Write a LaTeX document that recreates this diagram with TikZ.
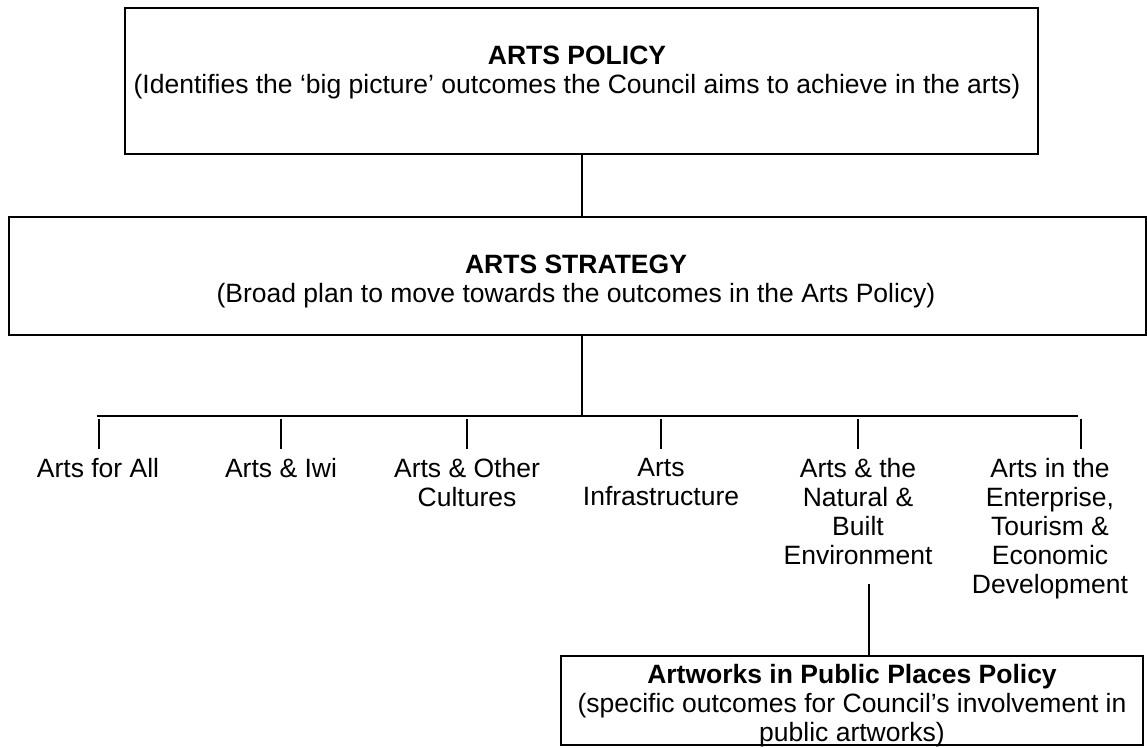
\documentclass[tikz,border=0pt]{standalone}
\usepackage{fontspec}
\setmainfont{Liberation Sans}
\usetikzlibrary{calc}
\begin{document}
\begin{tikzpicture}[x=1pt,y=-1pt,
  box/.style={draw=black,line width=1.3pt,inner sep=0pt,minimum width=#1},
  txt/.style={inner sep=0pt,anchor=north,align=center,font=\fontsize{26.5}{29}\selectfont},
  link/.style={line width=1.4pt},
  bus/.style={line width=2pt}]
\useasboundingbox (0,0) rectangle (1147,747);
% boxes
\node[box=913pt,minimum height=146pt] (policy) at (581.5,81) {};
\node[box=1137pt,minimum height=118pt] (strategy) at (577.5,276) {};
\node[box=582pt,minimum height=89pt,line width=1.8pt] (app) at (852,700.5) {};
% box texts
\node[txt] (policyT) at (577,46) {\textbf{ARTS POLICY}\\(Identifies the ‘big picture’ outcomes the Council aims to achieve in the arts)};
\node[txt] (strategyT) at (576,255) {\textbf{ARTS STRATEGY}\\(Broad plan to move towards the outcomes in the Arts Policy)};
\node[txt] (appT) at (852,664) {\textbf{Artworks in Public Places Policy}\\(specific outcomes for Council’s involvement in\\public artworks)};
% categories
\node[txt] (c1) at (98,458) {Arts for All};
\node[txt] (c2) at (281,458) {Arts \& Iwi};
\node[txt] (c3) at (467,458) {Arts \& Other\\Cultures};
\node[txt] (c4) at (661,458) {Arts\\Infrastructure};
\node[txt] (c5) at (858,458) {Arts \& the\\Natural \&\\Built\\Environment};
\node[txt] (c6) at (1050,458) {Arts in the\\Enterprise,\\Tourism \&\\Economic\\Development};
% connectors
\coordinate (mid) at (582,0);
\draw[link] (policy.south -| mid) -- (strategy.north -| mid);
\coordinate (trunk) at (582,416);
\draw[link] (strategy.south -| trunk) -- (trunk);
\coordinate (busL) at (97,416);
\coordinate (busR) at (1078,416);
\draw[bus] (busL) -- (busR);
\foreach \n/\x in {1/99,2/281,3/467,4/661,5/858,6/1081}{
  \coordinate (d\n top) at (\x,419);
  \coordinate (d\n bot) at (\x,449);
  \draw[link] (d\n top) -- (d\n bot);
}
\coordinate (envlow) at (869,584);
\draw[link] (envlow) -- (envlow |- app.north);
\end{tikzpicture}
\end{document}
